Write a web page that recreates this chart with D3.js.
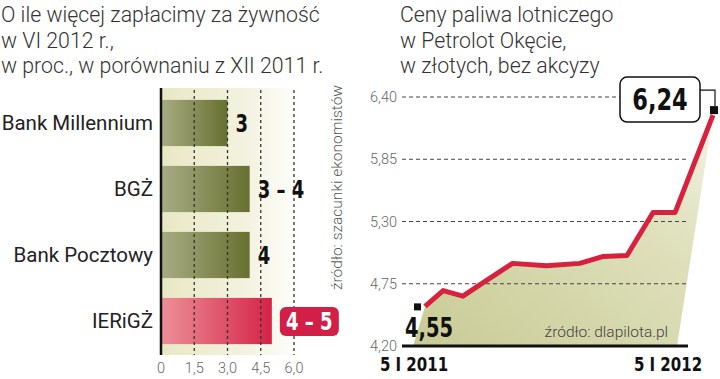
<!DOCTYPE html>
<html lang="pl">
<head>
  <meta charset="UTF-8">
  <title>Żywność i paliwo lotnicze</title>
  <script src="https://d3js.org/d3.v7.min.js"></script>
  <style>
    body {
      margin: 0;
      background: white;
      font-family: Roboto, "Noto Sans", sans-serif;
    }
    svg { display: block; }
    .title { font-size: 21.3px; font-weight: 300; fill: #333; }
    .cat { font-size: 20.5px; fill: #222; }
    .num { font-family: "DejaVu Sans", sans-serif; font-weight: bold; }
    .tick { font-size: 14.5px; font-weight: 300; fill: #666; }
  </style>
</head>
<body>
  <div id="chart"></div>

  <script>
    // lewy wykres: prognozy wzrostu cen żywności
    const banks = ["Bank Millennium", "BGŻ", "Bank Pocztowy", "IERiGŻ"];
    const forecastHigh = [3, 4, 4, 5];
    const forecastLabels = ["3", "3 – 4", "4", "4 – 5"];
    const pctTicks = [0, 1.5, 3, 4.5, 6];
    const pctTickLabels = ["0", "1,5", "3,0", "4,5", "6,0"];

    // prawy wykres: ceny paliwa lotniczego
    const fuelDates = ["2011-01-05", "2011-01-28", "2011-02-22", "2011-03-24", "2011-04-26", "2011-06-08",
                       "2011-07-20", "2011-08-18", "2011-09-18", "2011-10-21", "2011-11-18", "2012-01-05"];
    const fuelPrices = [4.55, 4.69, 4.64, 4.78, 4.93, 4.91, 4.93, 4.99, 5.00, 5.38, 5.38, 6.24];
    const priceTicks = [4.20, 4.75, 5.30, 5.85, 6.40];
    const dateLabels = ["5 I 2011", "5 I 2012"];

    const width = 720, height = 379;
    const svg = d3.select("#chart").append("svg")
      .attr("width", width)
      .attr("height", height);

    const defs = svg.append("defs");
    function gradient(id, stops, x2, y1) {
      const g = defs.append("linearGradient").attr("id", id)
        .attr("x1", 0).attr("y1", y1 || 0).attr("x2", x2 === undefined ? 1 : x2).attr("y2", 0);
      stops.forEach(s => g.append("stop").attr("offset", s[0]).attr("stop-color", s[1]));
    }
    gradient("panel", [[0, "#e9e8c4"], [0.6, "#f3f2df"], [1, "#ffffff"]]);
    gradient("olive", [[0, "#a9ad84"], [1, "#667030"]]);
    gradient("red", [[0, "#ec9097"], [1, "#d52447"]]);
    gradient("area", [[0, "#c8cb95"], [0.7, "#e1e2bf"], [1, "#f4f4e6"]], 1, 1);

    // pogrubione, zwężone cyfry (jak krój kondensowany)
    function numText(g, x, y, txt, size, anchor, fill) {
      return g.append("text").attr("class", "num")
        .attr("transform", `translate(${x},${y}) scale(0.75,1)`)
        .attr("text-anchor", anchor || "start")
        .attr("dy", "0.36em")
        .attr("font-size", size)
        .attr("fill", fill || "#111")
        .text(txt);
    }

    // ---------- tytuły ----------
    const titleL = ["O ile więcej zapłacimy za żywność", "w VI 2012 r.,", "w proc., w porównaniu z XII 2011 r."];
    const titleR = ["Ceny paliwa lotniczego", "w Petrolot Okęcie,", "w złotych, bez akcyzy"];
    svg.append("g").selectAll("text").data(titleL).join("text")
      .attr("class", "title").attr("x", 1).attr("y", (d, i) => 22 + i * 25.5).text(d => d);
    svg.append("g").selectAll("text").data(titleR).join("text")
      .attr("class", "title").attr("x", 400).attr("y", (d, i) => 22 + i * 25.5).text(d => d);

    // ---------- lewy wykres ----------
    const x = d3.scaleLinear().domain([0, 6]).range([161, 294]);
    const y = d3.scaleBand().domain(banks).range([88, 356]).paddingInner(0.3).paddingOuter(0.18);

    const left = svg.append("g");
    left.append("rect")
      .attr("x", x(0)).attr("y", 88)
      .attr("width", 140).attr("height", 267)
      .attr("fill", "url(#panel)");

    left.selectAll(".bar").data(banks).join("rect")
      .attr("class", "bar")
      .attr("x", x(0))
      .attr("y", d => y(d))
      .attr("width", (d, i) => x(forecastHigh[i]) - x(0))
      .attr("height", y.bandwidth())
      .attr("fill", (d, i) => i === 3 ? "url(#red)" : "url(#olive)");

    left.selectAll(".grid").data(pctTicks.slice(1)).join("line")
      .attr("x1", d => x(d)).attr("x2", d => x(d))
      .attr("y1", 90).attr("y2", 355)
      .attr("stroke", "#333").attr("stroke-width", 1.3)
      .attr("stroke-dasharray", "3,3");

    left.append("line")
      .attr("x1", x(0)).attr("x2", x(0)).attr("y1", 88).attr("y2", 355)
      .attr("stroke", "#111").attr("stroke-width", 2.5);

    left.selectAll(".cat").data(banks).join("text")
      .attr("class", "cat")
      .attr("x", 153)
      .attr("y", d => y(d) + y.bandwidth() / 2)
      .attr("dy", "0.35em")
      .attr("text-anchor", "end")
      .text(d => d);

    left.selectAll(".tick").data(pctTicks).join("text")
      .attr("class", "tick")
      .attr("x", d => x(d)).attr("y", 373)
      .attr("text-anchor", "middle")
      .text((d, i) => pctTickLabels[i]);

    // etykiety wartości
    banks.forEach((b, i) => {
      const cy = y(b) + y.bandwidth() / 2;
      const tx = x(forecastHigh[i]) + 8;
      if (i === 3) {
        left.append("rect")
          .attr("x", tx).attr("y", cy - 14).attr("width", 59).attr("height", 29)
          .attr("rx", 6).attr("fill", "#d11f48");
        numText(left, tx + 29.5, cy, forecastLabels[i], 24, "middle", "white");
      } else {
        numText(left, tx, cy, forecastLabels[i], 24);
      }
    });

    // źródło pionowo
    svg.append("text")
      .attr("transform", "translate(342,290) rotate(-90)")
      .attr("font-size", 15.5).attr("font-weight", 300).attr("fill", "#555")
      .text("źródło: szacunki ekonomistów");

    // ---------- prawy wykres ----------
    const parse = d3.timeParse("%Y-%m-%d");
    const dates = fuelDates.map(parse);
    const series = dates.map((d, i) => ({ date: d, value: fuelPrices[i] }));

    const xt = d3.scaleTime().domain(d3.extent(dates)).range([425, 713]);
    const yp = d3.scaleLinear().domain([4.20, 6.40]).range([346, 97]);

    const right = svg.append("g");

    // obszar pod linią, ze skośną prawą krawędzią
    const first = series[0];
    const last = series[series.length - 1];
    const areaPts = series.map(d => [xt(d.date), yp(d.value)]);
    areaPts.push([xt(last.date) - 36, yp(4.20)]);
    areaPts.push([xt(first.date) - 12, yp(4.20)]);
    right.append("path")
      .attr("d", "M" + areaPts.join("L") + "Z")
      .attr("fill", "url(#area)");

    right.selectAll(".grid").data(priceTicks.slice(1)).join("line")
      .attr("x1", 402).attr("x2", 688)
      .attr("y1", d => yp(d)).attr("y2", d => yp(d))
      .attr("stroke", "#444").attr("stroke-width", 1.2)
      .attr("stroke-dasharray", "4,3");

    right.append("line")
      .attr("x1", 402).attr("x2", 688)
      .attr("y1", yp(4.20)).attr("y2", yp(4.20))
      .attr("stroke", "#111").attr("stroke-width", 3);

    right.selectAll(".tick").data(priceTicks).join("text")
      .attr("class", "tick")
      .attr("x", 397).attr("y", d => yp(d)).attr("dy", "0.36em")
      .attr("text-anchor", "end")
      .text(d => d.toFixed(2).replace(".", ","));

    right.append("path")
      .datum(series)
      .attr("fill", "none")
      .attr("stroke", "#d6223f")
      .attr("stroke-width", 5)
      .attr("stroke-linejoin", "round")
      .attr("d", d3.line().x(d => xt(d.date)).y(d => yp(d.value)));

    // znaczniki i etykiety skrajnych wartości
    right.append("rect")
      .attr("x", xt(first.date) - 11).attr("y", yp(first.value) - 3)
      .attr("width", 7).attr("height", 7).attr("fill", "#111");
    numText(right, xt(first.date) + 4, 328, first.value.toFixed(2).replace(".", ","), 26, "middle");

    const ex = xt(last.date), ey = yp(last.value);
    right.append("rect")
      .attr("x", ex - 3).attr("y", ey - 9)
      .attr("width", 8).attr("height", 8).attr("fill", "#111");
    right.append("path")
      .attr("d", `M${ex - 13},${ey - 25}H${ex + 2}V${ey - 9}`)
      .attr("fill", "none").attr("stroke", "#111").attr("stroke-width", 1.2);
    right.append("rect")
      .attr("x", ex - 93).attr("y", ey - 38).attr("width", 80).attr("height", 45)
      .attr("rx", 7).attr("fill", "white").attr("stroke", "#111").attr("stroke-width", 1.5);
    numText(right, ex - 53, ey - 15.5, last.value.toFixed(2).replace(".", ","), 30, "middle");

    right.append("text")
      .attr("x", 668).attr("y", 337)
      .attr("text-anchor", "end").attr("font-size", 15.5).attr("font-weight", 300).attr("fill", "#444")
      .text("źródło: dlapilota.pl");

    // etykiety osi czasu
    dateLabels.forEach((d, i) => {
      numText(right, i === 0 ? xt(first.date) - 11 : xt(last.date) - 45, 364, d, 20, "middle");
    });
  </script>
</body>
</html>
